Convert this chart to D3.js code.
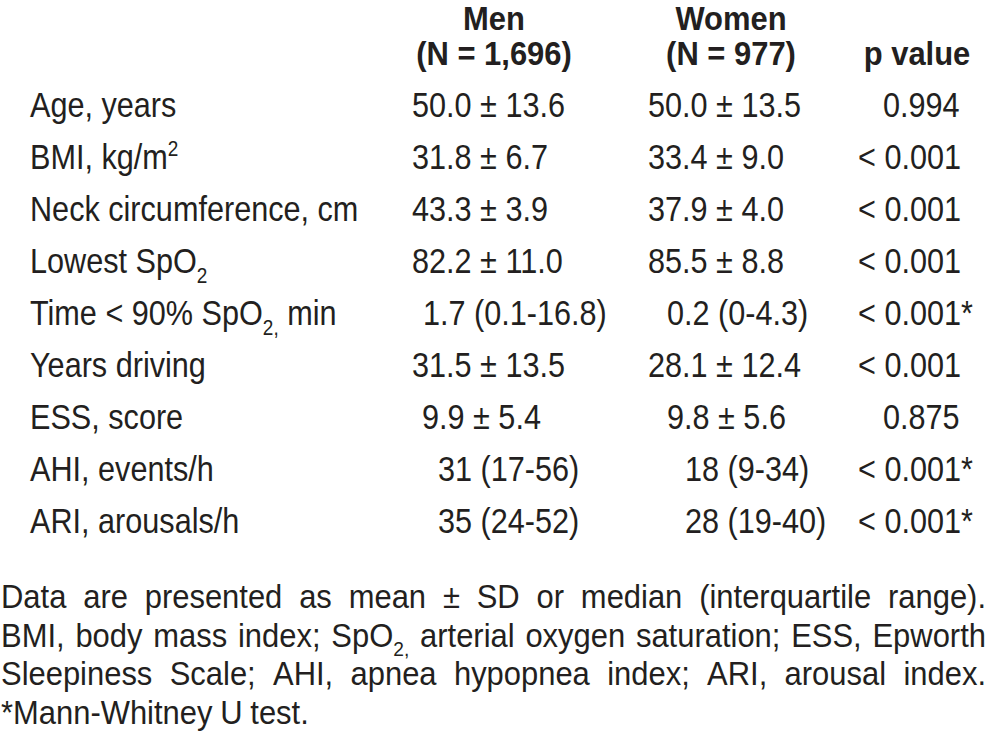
<!DOCTYPE html>
<html>
<head>
<meta charset="utf-8">
<script src="https://cdn.jsdelivr.net/npm/d3@7"></script>
<style>
  body { margin: 0; background: #fff; }
  svg text { font-family: "Liberation Sans Narrow", "Arial Narrow", "Liberation Sans", Arial, sans-serif; fill: #231f20; }
</style>
</head>
<body>
<div id="table"></div>
<script>
// Table contents (_{x} = subscript, ^{x} = superscript)
const headers = [["Men", "(N = 1,696)"], ["Women", "(N = 977)"], ["", "p value"]];
const labels = ["Age, years", "BMI, kg/m^{2}", "Neck circumference, cm", "Lowest SpO_{2}",
    "Time < 90% SpO_{2,} min", "Years driving", "ESS, score", "AHI, events/h", "ARI, arousals/h"];
const men = ["50.0 ± 13.6", "31.8 ± 6.7", "43.3 ± 3.9", "82.2 ± 11.0", "1.7 (0.1-16.8)",
    "31.5 ± 13.5", "9.9 ± 5.4", "31 (17-56)", "35 (24-52)"];
const women = ["50.0 ± 13.5", "33.4 ± 9.0", "37.9 ± 4.0", "85.5 ± 8.8", "0.2 (0-4.3)",
    "28.1 ± 12.4", "9.8 ± 5.6", "18 (9-34)", "28 (19-40)"];
const pValues = ["0.994", "< 0.001", "< 0.001", "< 0.001", "< 0.001*", "< 0.001", "0.875", "< 0.001*", "< 0.001*"];
const footnote = [
    "Data are presented as mean ± SD or median (interquartile range).",
    "BMI, body mass index; SpO_{2,} arterial oxygen saturation; ESS, Epworth",
    "Sleepiness Scale; AHI, apnea hypopnea index; ARI, arousal index.",
    "*Mann-Whitney U test."
];

const width = 988, height = 742;
const fontSize = 35, sx = 0.875;      // body cells: squeezed to imitate the condensed face
const headSize = 34, headSx = 0.91;
const footSize = 34, footSx = 0.91;

// column left edges and the small indents the original layout uses
const colX = {label: 30, men: 412, women: 648, p: 858};
const menIndent = [0, 0, 0, 0, 11, 0, 10, 26, 26];
const womenIndent = [0, 0, 0, 0, 19, 0, 19, 37, 37];
const pIndent = [25, 0, 0, 0, 0, 0, 25, 0, 0];
const headCenters = [494, 731, 917];
const headBaselines = [30, 65];

const svg = d3.select("#table")
    .append("svg")
    .attr("width", width)
    .attr("height", height);

// row baselines
const y = d3.scalePoint()
    .domain(d3.range(labels.length))
    .range([117, 533]);

function place(t, x, yy, k) {
    return t.attr("transform", `translate(${x},${yy}) scale(${k},1)`);
}

// write a string with sub/superscripts into a text element
function rich(text, str, size) {
    const parts = str.split(/(_\{[^}]*\}|\^\{[^}]*\})/).filter(s => s.length);
    let shift = 0;
    parts.forEach(p => {
        let target = 0, content = p, small = false;
        if (p.startsWith("_{")) { target = size * 0.28; content = p.slice(2, -1); small = true; }
        else if (p.startsWith("^{")) { target = -size * 0.38; content = p.slice(2, -1); small = true; }
        const t = text.append("tspan")
            .attr("dy", target - shift)
            .text(content);
        if (small) t.style("font-size", (size * 0.62) + "px");
        shift = target;
    });
}

// header
headers.forEach((h, i) => {
    h.forEach((line, j) => {
        if (!line) return;
        const t = svg.append("text")
            .attr("text-anchor", "middle")
            .style("font-size", headSize + "px")
            .style("font-weight", "bold")
            .text(line);
        place(t, headCenters[i], headBaselines[j], headSx);
    });
});

// body rows
labels.forEach((lab, i) => {
    const t = svg.append("text").style("font-size", fontSize + "px");
    place(t, colX.label, y(i), sx);
    rich(t, lab, fontSize);

    [[men, colX.men, menIndent], [women, colX.women, womenIndent], [pValues, colX.p, pIndent]]
        .forEach(([vals, x0, ind]) => {
            const c = svg.append("text")
                .style("font-size", fontSize + "px")
                .text(vals[i]);
            place(c, x0 + ind[i], y(i), sx);
        });
});

// justified footnote
const footY = d3.scalePoint().domain(d3.range(footnote.length)).range([608, 724]);
const footLeft = 1, footRight = 986;

footnote.forEach((line, i) => {
    const words = line.split(" ");
    const justify = i < footnote.length - 1;
    const nodes = words.map(w => {
        const t = svg.append("text").style("font-size", footSize + "px");
        rich(t, w, footSize);
        return t;
    });
    const widths = nodes.map(n => n.node().getComputedTextLength() * footSx);
    const total = d3.sum(widths);
    const gap = justify ? (footRight - footLeft - total) / (words.length - 1) : footSize * 0.25 * footSx;
    let x = footLeft;
    nodes.forEach((n, k) => {
        place(n, x, footY(i), footSx);
        x += widths[k] + gap;
    });
});
</script>
</body>
</html>
